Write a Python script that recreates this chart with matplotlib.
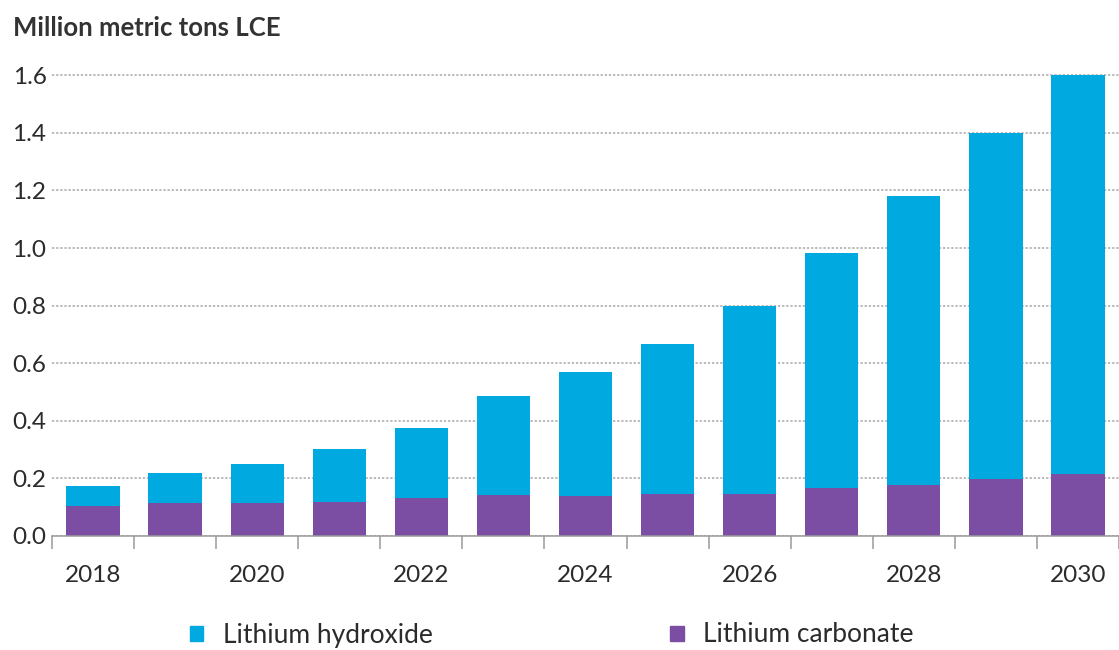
import matplotlib
matplotlib.use("Agg")
import matplotlib.pyplot as plt
from matplotlib.patches import Patch
import numpy as np

years = [2018, 2019, 2020, 2021, 2022, 2023, 2024, 2025, 2026, 2027, 2028, 2029, 2030]
carbonate = [0.104, 0.113, 0.113, 0.119, 0.133, 0.142, 0.138, 0.146, 0.146, 0.165, 0.176, 0.199, 0.217]
hydroxide = [0.069, 0.106, 0.138, 0.184, 0.242, 0.343, 0.432, 0.520, 0.654, 0.817, 1.003, 1.201, 1.383]
year_labels = ["2018", "2020", "2022", "2024", "2026", "2028", "2030"]
yticks = [0.0, 0.2, 0.4, 0.6, 0.8, 1.0, 1.2, 1.4, 1.6]
series_names = ["Lithium hydroxide", "Lithium carbonate"]

c_hyd = "#00a9e0"
c_carb = "#7b4ea3"
txt = "#2b2b2b"

plt.rcParams["font.family"] = ["Lato", "DejaVu Sans"]

fig = plt.figure(figsize=(11.19, 6.5), dpi=100)
W, H = 1119, 650
x0 = 52
x_step = 82.4
y0 = 536
y_unit = 288.0
ytop = 1.65
ax = fig.add_axes([x0 / W, (H - y0) / H, 1 - x0 / W, ytop * y_unit / H])

x = np.array(years, dtype=float)
ax.bar(x, carbonate, width=0.65, color=c_carb, zorder=3)
ax.bar(x, hydroxide, width=0.65, bottom=carbonate, color=c_hyd, zorder=3)

ax.set_xlim(years[0] - 0.5, years[0] - 0.5 + (W - x0) / x_step)
ax.set_ylim(0, ytop)

ax.set_yticks(yticks)
ax.set_yticklabels([f"{v:.1f}" for v in yticks])
ax.yaxis.grid(True, color="#a8a8a8", linestyle=(0, (1.5, 1.2)), linewidth=1.1, zorder=0)
ax.tick_params(axis="y", length=0, pad=4, labelsize=17.5, labelcolor=txt)

ax.set_xticks([int(l) for l in year_labels])
ax.set_xticklabels(year_labels)
ax.set_xticks(np.arange(years[0] - 0.5, years[-1] + 1, 1.0), minor=True)
ax.tick_params(axis="x", which="major", length=0, pad=21, labelsize=17.5, labelcolor=txt)
ax.tick_params(axis="x", which="minor", length=9, width=1.1, color="#9a9a9a", direction="out")

for s in ["top", "right", "left"]:
    ax.spines[s].set_visible(False)
ax.spines["bottom"].set_color("#9a9a9a")
ax.spines["bottom"].set_linewidth(1.1)
ax.spines["bottom"].set_zorder(4)

fig.text(13 / W, 1 - 28 / H, "Million metric tons LCE", fontsize=18.5, fontweight="bold",
         color="#333333", ha="left", va="center")

handles = [Patch(color=c_hyd), Patch(color=c_carb)]
fig.legend(handles, series_names, loc="center", bbox_to_anchor=(552 / W, 1 - 635 / H),
           ncol=2, frameon=False, fontsize=19, handlelength=0.5, handleheight=0.5,
           handletextpad=0.75, columnspacing=9.0, labelcolor=txt)

fig.savefig("out.png", dpi=100)
